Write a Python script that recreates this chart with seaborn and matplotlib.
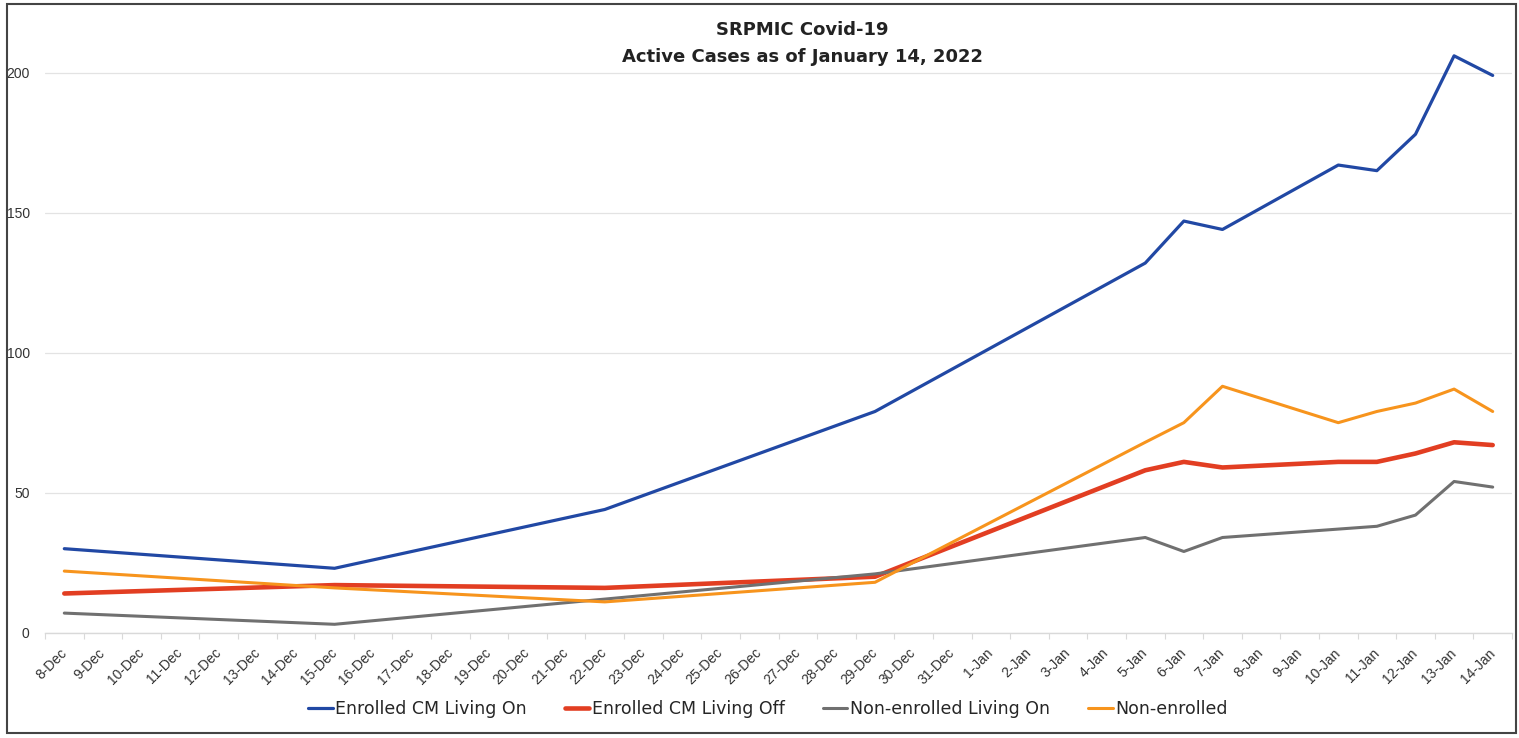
import matplotlib
matplotlib.use("Agg")
import matplotlib.pyplot as plt
import matplotlib.patches as patches
from matplotlib import font_manager
import seaborn as sns
import pandas as pd

# every day on the axis, 8-Dec .. 14-Jan
all_days = pd.date_range("2021-12-08", "2022-01-14")
tick_labels = [f"{d.day}-{d.strftime('%b')}" for d in all_days]

# days that have a report
report_days = ["8-Dec", "15-Dec", "22-Dec", "29-Dec", "5-Jan", "6-Jan",
               "7-Jan", "10-Jan", "11-Jan", "12-Jan", "13-Jan", "14-Jan"]

enrolled_on = [30, 23, 44, 79, 132, 147, 144, 167, 165, 178, 206, 199]
enrolled_off = [14, 17, 16, 20, 58, 61, 59, 61, 61, 64, 68, 67]
non_enrolled_on = [7, 3, 12, 21, 34, 29, 34, 37, 38, 42, 54, 52]
non_enrolled = [22, 16, 11, 18, 68, 75, 88, 75, 79, 82, 87, 79]

series_names = ["Enrolled CM Living On", "Enrolled CM Living Off",
                "Non-enrolled Living On", "Non-enrolled"]
series_values = [enrolled_on, enrolled_off, non_enrolled_on, non_enrolled]
colors = ["#2148A4", "#E23E22", "#707070", "#F7941D"]
widths = [2.3, 3.3, 2.2, 2.2]

rows = []
for name, vals in zip(series_names, series_values):
    for day, v in zip(report_days, vals):
        rows.append({"day": tick_labels.index(day), "cases": v, "series": name})
df = pd.DataFrame(rows)

sns.set_theme(style="white")
names = {f.name for f in font_manager.fontManager.ttflist}
narrow = "Liberation Sans Narrow" if "Liberation Sans Narrow" in names else "DejaVu Sans"
plt.rcParams["font.family"] = ["Liberation Sans", "DejaVu Sans"]

W, H = 1519, 738
fig = plt.figure(figsize=(W / 100, H / 100), dpi=100)
ax = fig.add_axes([45 / W, (H - 632.7) / H, (1512 - 45) / W, (632.7 - 20) / H])

for name, c, lw in zip(series_names, colors, widths):
    sns.lineplot(data=df[df["series"] == name], x="day", y="cases", color=c,
                 linewidth=lw, label=name, ax=ax, legend=False)

ax.set_xlim(-0.5, len(tick_labels) - 0.5)
ax.set_ylim(0, 218.8)
ax.set_xlabel("")
ax.set_ylabel("")

ax.set_yticks([0, 50, 100, 150, 200])
ax.set_yticklabels(["0", "50", "100", "150", "200"])
ax.yaxis.grid(True, color="#e3e3e3", linewidth=0.9)
ax.tick_params(axis="y", length=0, pad=11, labelsize=10, labelcolor="#333333")

ax.set_xticks(range(len(tick_labels)))
ax.set_xticklabels(tick_labels, rotation=45, ha="right", va="center",
                   rotation_mode="anchor", fontsize=10, color="#333333")
ax.set_xticks([i - 0.5 for i in range(len(tick_labels) + 1)], minor=True)
ax.tick_params(axis="x", which="major", length=0, pad=13)
ax.tick_params(axis="x", which="minor", length=4, width=0.8, color="#d9d9d9",
               bottom=True)

for s in ["top", "right", "left"]:
    ax.spines[s].set_visible(False)
ax.spines["bottom"].set_color("#d9d9d9")
ax.spines["bottom"].set_linewidth(1)

fig.text(802 / W, 1 - 30 / H, "SRPMIC Covid-19", ha="center", va="center",
         fontsize=13, fontweight="bold", family=narrow, color="#222222")
fig.text(802 / W, 1 - 57 / H, "Active Cases as of January 14, 2022", ha="center",
         va="center", fontsize=13, fontweight="bold", family=narrow, color="#222222")

handles, labels = ax.get_legend_handles_labels()
fig.legend(handles, labels, loc="center", bbox_to_anchor=(768 / W, 1 - 709 / H),
           ncol=4, frameon=False, handlelength=1.4, handletextpad=0.15,
           columnspacing=2.2, prop={"family": narrow, "size": 12.5})

fig.patches.append(patches.Rectangle((7 / W, 5 / H), (1516 - 7) / W, (733 - 4) / H,
                                     transform=fig.transFigure, fill=False,
                                     edgecolor="#444444", linewidth=1.5))

fig.savefig("out.png", dpi=100)
